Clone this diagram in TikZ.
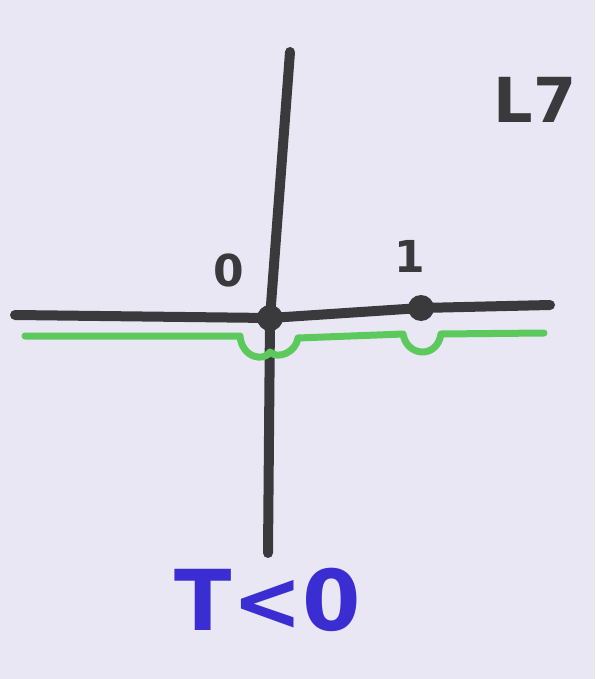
\documentclass[tikz,border=0pt]{standalone}
\usepackage{fontspec}
\setmainfont{DejaVu Sans}
\usetikzlibrary{positioning}
\definecolor{paper}{HTML}{E9E7F4}
\definecolor{ink}{HTML}{3A3A3C}
\definecolor{marker}{HTML}{5CC95C}
\definecolor{pen}{HTML}{3A2ED2}
\tikzset{
  axisline/.style={draw=ink, line width=10pt, line cap=round, line join=round},
  signline/.style={draw=marker, line width=7pt, line cap=round, line join=round},
  ptdot/.style={circle, fill=ink, inner sep=0pt, minimum size=26pt},
  numlbl/.style={font=\fontsize{44}{44}\selectfont\bfseries, text=ink},
}

\begin{document}
\begin{tikzpicture}[x=1pt, y=-1pt]
% ---- page ----
\fill[paper] (0,0) rectangle (595,679);
\useasboundingbox (0,0) rectangle (595,679);
% ---- points ----
\node[ptdot] (p0) at (270,318) {};
\node[ptdot] (p1) at (421,308) {};
\node[numlbl] (l0) at (229,270) {0};
\node[numlbl] (l1) at (410,256) {1};
% ---- axes ----
\coordinate (xl) at (15,315);
\coordinate (xr) at (550,305);
\coordinate (yt) at (290,52);
\coordinate (yb) at (268,553);
\draw[axisline] (xl) -- (p0.center) -- (p1.center) -- (xr);
\draw[axisline] (yt) -- (p0.center) -- (yb);
% ---- sign line ----
\draw[signline] (25,336) -- (240,336)
  .. controls (242,358) and (264,362) .. (270,352)
  .. controls (278,360) and (296,352) .. (298,338)
  -- (403,334) .. controls (407,357) and (437,359) .. (441,334)
  -- (544,333);
% ---- labels ----
\node[font=\fontsize{62}{62}\selectfont\bfseries, text=ink] (tag) at (535,100) {L7};
\node[font=\fontsize{84}{84}\selectfont\bfseries, text=pen] (cond) at (268,600) {T<0};
\end{tikzpicture}
\end{document}
